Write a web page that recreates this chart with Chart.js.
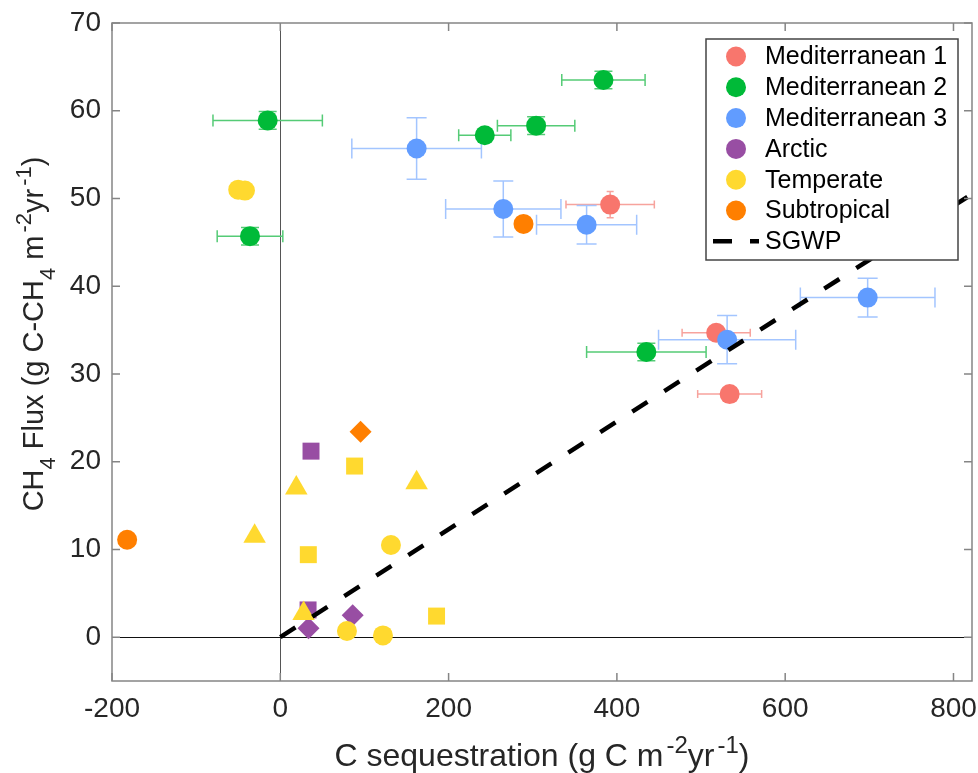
<!DOCTYPE html>
<html><head><meta charset="utf-8">
<script src="https://cdn.jsdelivr.net/npm/chart.js@4.4.0/dist/chart.umd.min.js"></script>
<style>html,body{margin:0;padding:0;background:#fff;overflow:hidden;}#wrap{width:978px;height:773px;}canvas{display:block;}</style>
</head><body><div id="wrap"><canvas id="c" width="978" height="773"></canvas></div>
<script>
// ---------- data ----------
const seriesNames = ['Mediterranean 1','Mediterranean 2','Mediterranean 3','Arctic','Temperate','Subtropical'];

const med1X    = [392, 518, 534];
const med1Y    = [49.3, 34.7, 27.7];
const med1XErr = [52.5, 40.5, 38];
const med1YErr = [1.5, 0, 0];

const med2X    = [-15, -36, 384, 243, 304, 435];
const med2Y    = [58.9, 45.7, 63.5, 57.2, 58.3, 32.5];
const med2XErr = [65, 39, 49.5, 31, 46, 71];
const med2YErr = [1, 1, 1, 0, 1, 1];

const med3X    = [162, 265, 364, 531, 698];
const med3Y    = [55.7, 48.8, 47.0, 33.9, 38.7];
const med3XErr = [77, 68.5, 59.5, 81.5, 80];
const med3YErr = [3.5, 3.2, 2.2, 2.75, 2.2];

const arcticX = [36.5, 33, 86, 33.5];
const arcticY = [21.2, 3.1, 2.5, 1.0];
const arcticShape = ['rect','rect','rectRot','rectRot'];

const temperateX = [-50, -42, 19, 162, -30.5, 27.7, 88.3, 33.3, 185.7, 131.5, 79.2, 122];
const temperateY = [51.0, 50.9, 17.0, 17.6, 11.5, 2.7, 19.5, 9.4, 2.4, 10.5, 0.7, 0.2];
const temperateShape = ['circle','circle','triangle','triangle','triangle','triangle','rect','rect','rect','circle','circle','circle'];

const subtropX = [-182, 289, 95.4];
const subtropY = [11.1, 47.1, 23.4];
const subtropShape = ['circle','circle','rectRot'];

const sgwpX = [0, 822];
const sgwpY = [0, 50.5];

const xTickValues = [-200, 0, 200, 400, 600, 800];
const yTickValues = [0, 10, 20, 30, 40, 50, 60, 70];

// ---------- styling ----------
const FONT = '"Liberation Sans", Arial, sans-serif';
const TXT = '#262626';
const colors = ['#F8766D','#00BA38','#619CFF','#984EA3','#FFD92F','#FF7F00'];
const barColors = ['#F7A39D','#55CB76','#A3C5FF'];
const capX = [8, 12, 20];
const capY = [7, 18, 20];
const sizeFor = s => ({circle:10, triangle:13, rect:12, rectRot:11}[s]);

const pts = (xs, ys) => xs.map((x, i) => ({x, y: ys[i]}));
const errSets = [
  {x: med1X, y: med1Y, xe: med1XErr, ye: med1YErr},
  {x: med2X, y: med2Y, xe: med2XErr, ye: med2YErr},
  {x: med3X, y: med3Y, xe: med3XErr, ye: med3YErr}
];

const shapesAll = [med1X.map(()=>'circle'), med2X.map(()=>'circle'), med3X.map(()=>'circle'), arcticShape, temperateShape, subtropShape];
const xsAll = [med1X, med2X, med3X, arcticX, temperateX, subtropX];
const ysAll = [med1Y, med2Y, med3Y, arcticY, temperateY, subtropY];

const datasets = [{
  type: 'line', label: 'SGWP', data: pts(sgwpX, sgwpY),
  borderColor: '#000', borderWidth: 4.5, borderDash: [18, 20], pointRadius: 0,
  fill: false, order: 0, clip: 0
}];
seriesNames.forEach((n, i) => {
  datasets.push({
    type: 'scatter', label: n, data: pts(xsAll[i], ysAll[i]),
    backgroundColor: colors[i], borderColor: colors[i], borderWidth: 0,
    pointStyle: shapesAll[i], pointRadius: shapesAll[i].map(sizeFor),
    pointHoverRadius: shapesAll[i].map(sizeFor), order: 10 - i
  });
});

function drawRich(ctx, parts, x, y, main, small, off) {
  const gap = 3;
  let total = 0;
  const ws = parts.map(([t, k]) => {
    ctx.font = (k ? small : main) + 'px ' + FONT;
    const w = ctx.measureText(t).width + (k === 1 ? gap : 0);
    total += w; return w;
  });
  let cx = x - total / 2;
  ctx.textAlign = 'left'; ctx.textBaseline = 'alphabetic';
  parts.forEach(([t, k], i) => {
    ctx.font = (k ? small : main) + 'px ' + FONT;
    const dy = k === 1 ? -off : (k === -1 ? off : 0);
    ctx.fillText(t, cx + (k === 1 ? gap : 0), y + dy);
    cx += ws[i];
  });
}

const decor = {
  id: 'decor',
  beforeDatasetsDraw(chart) {
    const {ctx, chartArea: a, scales: {x: xs, y: ys}} = chart;
    ctx.save();
    ctx.lineWidth = 1;
    ctx.strokeStyle = '#555';
    const x0 = Math.round(xs.getPixelForValue(0)) + 0.5;
    ctx.beginPath(); ctx.moveTo(x0, a.top); ctx.lineTo(x0, a.bottom); ctx.stroke();
    ctx.strokeStyle = '#111';
    const y0 = Math.round(ys.getPixelForValue(0)) + 0.5;
    ctx.beginPath(); ctx.moveTo(a.left, y0); ctx.lineTo(a.right, y0); ctx.stroke();
    ctx.lineWidth = 1.5;
    errSets.forEach((s, k) => {
      ctx.strokeStyle = barColors[k];
      s.x.forEach((xv, i) => {
        const px = xs.getPixelForValue(xv), py = ys.getPixelForValue(s.y[i]);
        if (s.xe[i]) {
          const l = xs.getPixelForValue(xv - s.xe[i]), r = xs.getPixelForValue(xv + s.xe[i]);
          const h = capX[k] / 2;
          ctx.beginPath();
          ctx.moveTo(l, py); ctx.lineTo(r, py);
          ctx.moveTo(l, py - h); ctx.lineTo(l, py + h);
          ctx.moveTo(r, py - h); ctx.lineTo(r, py + h);
          ctx.stroke();
        }
        if (s.ye[i]) {
          const t = ys.getPixelForValue(s.y[i] + s.ye[i]), b = ys.getPixelForValue(s.y[i] - s.ye[i]);
          const h = capY[k] / 2;
          ctx.beginPath();
          ctx.moveTo(px, t); ctx.lineTo(px, b);
          ctx.moveTo(px - h, t); ctx.lineTo(px + h, t);
          ctx.moveTo(px - h, b); ctx.lineTo(px + h, b);
          ctx.stroke();
        }
      });
    });
    ctx.restore();
  },
  afterDraw(chart) {
    const {ctx, chartArea: a, scales: {x: xs, y: ys}} = chart;
    ctx.save();
    ctx.strokeStyle = '#858585'; ctx.lineWidth = 1.5;
    ctx.strokeRect(a.left, a.top, a.right - a.left, a.bottom - a.top);
    const tl = 8;
    ctx.beginPath();
    xTickValues.forEach(v => {
      const p = xs.getPixelForValue(v);
      ctx.moveTo(p, a.bottom); ctx.lineTo(p, a.bottom - tl);
      ctx.moveTo(p, a.top); ctx.lineTo(p, a.top + tl);
    });
    yTickValues.forEach(v => {
      const p = ys.getPixelForValue(v);
      ctx.moveTo(a.left, p); ctx.lineTo(a.left + tl, p);
      ctx.moveTo(a.right, p); ctx.lineTo(a.right - tl, p);
    });
    ctx.stroke();

    // legend
    const bx = a.right - 266, by = a.top + 16, bw = 252, bh = 221;
    ctx.fillStyle = '#fff';
    ctx.fillRect(bx, by, bw, bh);
    ctx.strokeStyle = '#444'; ctx.lineWidth = 1.5;
    ctx.strokeRect(bx, by, bw, bh);
    const rowH = 30.8;
    ctx.font = '25px ' + FONT;
    ctx.textAlign = 'left'; ctx.textBaseline = 'middle';
    chart.data.datasets.filter(d => d.type === 'scatter').forEach((d, i) => {
      const cy = by + 17.5 + i * rowH;
      ctx.fillStyle = d.backgroundColor;
      ctx.beginPath(); ctx.arc(bx + 30, cy, 10, 0, Math.PI * 2); ctx.fill();
      ctx.fillStyle = '#000';
      ctx.fillText(d.label, bx + 59, cy + 1);
    });
    const line = chart.data.datasets.find(d => d.type === 'line');
    const cy = by + 17.5 + 6 * rowH;
    ctx.strokeStyle = line.borderColor; ctx.lineWidth = 4.5;
    ctx.setLineDash([19, 18]);
    ctx.beginPath(); ctx.moveTo(bx + 7, cy); ctx.lineTo(bx + 53, cy); ctx.stroke();
    ctx.setLineDash([]);
    ctx.fillStyle = '#000';
    ctx.fillText(line.label, bx + 59, cy + 1);

    // axis titles
    ctx.fillStyle = TXT;
    drawRich(ctx, [['C sequestration (g C m', 0], ['-2', 1], ['yr', 0], ['-1', 1], [')', 0]],
      (a.left + a.right) / 2, 766, 32, 24, 13);
    ctx.save();
    ctx.translate(43, 334);
    ctx.rotate(-Math.PI / 2);
    drawRich(ctx, [['CH', 0], ['4', -1], [' Flux (g C-CH', 0], ['4', -1], [' m', 0], ['-2', 1], ['yr', 0], ['-1', 1], [')', 0]], 0, 0, 29, 22, 12);
    ctx.restore();
    ctx.restore();
  }
};

new Chart(document.getElementById('c'), {
  data: {datasets},
  options: {
    responsive: false, animation: false, devicePixelRatio: 1,
    layout: {autoPadding: false, padding: {left: 0, right: 6, top: 23, bottom: 0}},
    plugins: {legend: {display: false}, tooltip: {enabled: false}},
    events: [],
    scales: {
      x: {
        type: 'linear', position: 'bottom', min: -200, max: 822,
        afterBuildTicks: s => { s.ticks = xTickValues.map(v => ({value: v})); },
        afterFit: s => { s.height = 92; s.paddingLeft = 0; s.paddingRight = 0; },
        grid: {display: false, drawTicks: false}, border: {display: false},
        ticks: {padding: 0, color: TXT, autoSkip: false, maxRotation: 0, font: {family: FONT, size: 28, lineHeight: 1.986}}
      },
      y: {
        type: 'linear', position: 'left', min: -5, max: 70,
        afterBuildTicks: s => { s.ticks = yTickValues.map(v => ({value: v})); },
        afterFit: s => { s.width = 112; s.paddingTop = 0; s.paddingBottom = 0; },
        grid: {display: false, drawTicks: false}, border: {display: false},
        ticks: {padding: 11, color: TXT, font: {family: FONT, size: 28}}
      }
    }
  },
  plugins: [decor]
});
</script>
</body></html>
